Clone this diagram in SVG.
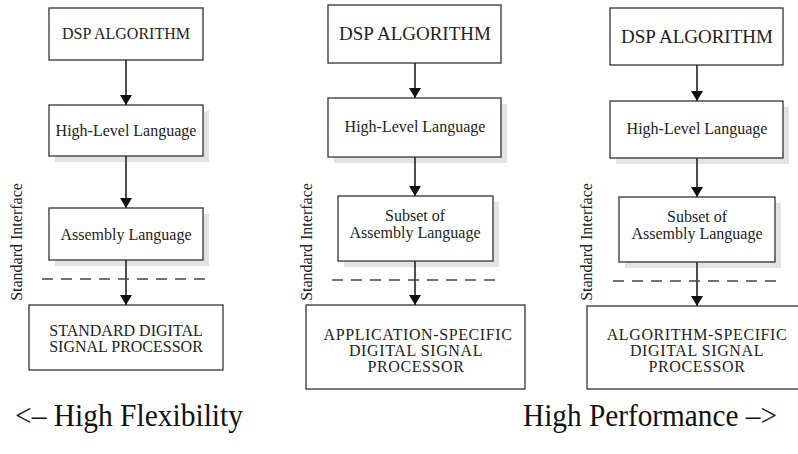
<svg xmlns="http://www.w3.org/2000/svg" width="798" height="454" viewBox="0 0 798 454">
<defs>
<style>
.box{fill:#fff;stroke:#333;stroke-width:1.3}
.sh{fill:#e3e3e3;stroke:none}
.t{font-family:"Liberation Serif","Times New Roman",serif;font-size:16px;fill:#222;text-anchor:middle}
.w{letter-spacing:0.6px}
.t19{font-size:19px}
.v{font-family:"Liberation Serif","Times New Roman",serif;font-size:16px;fill:#222;text-anchor:middle}
.big{font-family:"Liberation Serif","Times New Roman",serif;font-size:31px;fill:#111}
.ln{stroke:#222;stroke-width:1.6;fill:none}
.dash{stroke:#444;stroke-width:1.3;stroke-dasharray:11 8;fill:none}
</style>
<marker id="ah" viewBox="0 0 10 12" refX="10" refY="6" markerWidth="10" markerHeight="12" markerUnits="userSpaceOnUse" orient="auto">
<path d="M0,0 L10,6 L0,12 Z" fill="#111"/>
</marker>
</defs>
<rect width="798" height="454" fill="#fff"/>

<!-- Panel 1 -->
<g id="p1-dsp"><rect class="box" x="49" y="8" width="154" height="52"/><text class="t" x="126" y="39">DSP ALGORITHM</text></g>
<g id="p1-hll"><rect class="sh" x="55" y="111" width="154" height="51"/><rect class="box" x="49" y="105" width="154" height="51"/><text class="t" x="126" y="136">High-Level Language</text></g>
<g id="p1-asm"><rect class="sh" x="55" y="214" width="154" height="52"/><rect class="box" x="49" y="208" width="154" height="52"/><text class="t" x="126" y="240">Assembly Language</text></g>
<g id="p1-std"><rect class="box" x="29" y="305" width="194" height="65"/><text class="t" x="126" y="336">STANDARD DIGITAL</text><text class="t" x="126" y="352">SIGNAL PROCESSOR</text></g>
<g id="p1-if"><text class="v" transform="translate(22,242) rotate(-90)">Standard Interface</text></g>

<!-- Panel 2 -->
<g id="p2-dsp"><rect class="box" x="328" y="5" width="173" height="58"/><text class="t t19" x="415" y="40">DSP ALGORITHM</text></g>
<g id="p2-hll"><rect class="sh" x="334" y="104" width="173" height="59"/><rect class="box" x="328" y="98" width="173" height="59"/><text class="t" x="415" y="132">High-Level Language</text></g>
<g id="p2-sub"><rect class="sh" x="344" y="202" width="155" height="65"/><rect class="box" x="338" y="196" width="155" height="65"/><text class="t" x="415" y="221">Subset of</text><text class="t" x="415" y="238">Assembly Language</text></g>
<g id="p2-asp"><rect class="box" x="306" y="305" width="219" height="84"/><text class="t w" x="418" y="340">APPLICATION-SPECIFIC</text><text class="t w" x="416" y="356">DIGITAL SIGNAL</text><text class="t w" x="416" y="372">PROCESSOR</text></g>
<g id="p2-if"><text class="v" transform="translate(312,242) rotate(-90)">Standard Interface</text></g>

<!-- Panel 3 -->
<g id="p3-dsp"><rect class="box" x="610" y="8" width="173" height="57"/><text class="t t19" x="697" y="43">DSP ALGORITHM</text></g>
<g id="p3-hll"><rect class="sh" x="616" y="107" width="173" height="57"/><rect class="box" x="610" y="101" width="173" height="57"/><text class="t" x="697" y="134">High-Level Language</text></g>
<g id="p3-sub"><rect class="sh" x="625" y="203" width="156" height="65"/><rect class="box" x="619" y="197" width="156" height="65"/><text class="t" x="697" y="222">Subset of</text><text class="t" x="697" y="239">Assembly Language</text></g>
<g id="p3-alg"><rect class="box" x="587" y="306" width="215" height="83"/><text class="t w" x="697" y="340">ALGORITHM-SPECIFIC</text><text class="t w" x="697" y="356">DIGITAL SIGNAL</text><text class="t w" x="697" y="372">PROCESSOR</text></g>
<g id="p3-if"><text class="v" transform="translate(592,242) rotate(-90)">Standard Interface</text></g>

<!-- Connectors -->
<g id="connectors">
<line class="ln" x1="126" y1="60" x2="126" y2="105" marker-end="url(#ah)"/>
<line class="ln" x1="126" y1="156" x2="126" y2="208" marker-end="url(#ah)"/>
<line class="ln" x1="126" y1="260" x2="126" y2="305" marker-end="url(#ah)"/>
<line class="ln" x1="415" y1="63" x2="415" y2="98" marker-end="url(#ah)"/>
<line class="ln" x1="415" y1="157" x2="415" y2="196" marker-end="url(#ah)"/>
<line class="ln" x1="415" y1="261" x2="415" y2="305" marker-end="url(#ah)"/>
<line class="ln" x1="697" y1="65" x2="697" y2="101" marker-end="url(#ah)"/>
<line class="ln" x1="697" y1="158" x2="697" y2="197" marker-end="url(#ah)"/>
<line class="ln" x1="697" y1="262" x2="697" y2="306" marker-end="url(#ah)"/>
<line class="dash" x1="42" y1="279" x2="210" y2="279"/>
<line class="dash" x1="332" y1="280" x2="500" y2="280"/>
<line class="dash" x1="613" y1="281" x2="782" y2="281"/>
</g>

<text class="big" x="15" y="426" textLength="228" lengthAdjust="spacingAndGlyphs">&lt;– High Flexibility</text>
<text class="big" x="523" y="426" textLength="254" lengthAdjust="spacingAndGlyphs">High Performance –&gt;</text>
</svg>
